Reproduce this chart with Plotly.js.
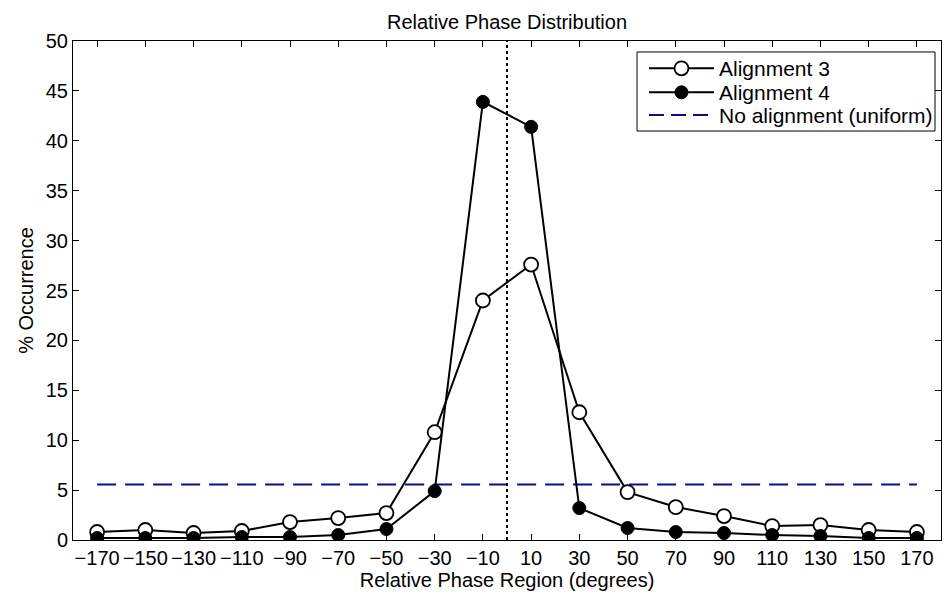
<!DOCTYPE html>
<html>
<head>
<meta charset="utf-8">
<script src="https://cdn.plot.ly/plotly-3.0.1.min.js"></script>
<style>
  html, body { margin: 0; padding: 0; background: #fff; }
  #chart { width: 947px; height: 594px; }
</style>
</head>
<body>
<div id="chart"></div>
<script>
// Relative phase region centres (degrees)
const phaseRegions = [-170, -150, -130, -110, -90, -70, -50, -30, -10, 10, 30, 50, 70, 90, 110, 130, 150, 170];
// % occurrence, Alignment 3 (open circles)
const alignment3 = [0.8, 1.0, 0.7, 0.9, 1.8, 2.2, 2.7, 10.8, 24.0, 27.6, 12.8, 4.8, 3.3, 2.4, 1.4, 1.5, 1.0, 0.8];
// % occurrence, Alignment 4 (filled circles)
const alignment4 = [0.2, 0.2, 0.2, 0.3, 0.3, 0.5, 1.1, 4.9, 43.9, 41.4, 3.2, 1.2, 0.8, 0.7, 0.5, 0.4, 0.2, 0.2];
// No alignment (uniform) = 100 / 18 regions
const uniformX = [-170, 170];
const uniformY = [5.556, 5.556];
// Reference line at zero phase
const refLineX = [0, 0];
const refLineY = [0, 50];
// Tick values
const xTicks = [-170, -150, -130, -110, -90, -70, -50, -30, -10, 10, 30, 50, 70, 90, 110, 130, 150, 170];
const yTicks = [0, 5, 10, 15, 20, 25, 30, 35, 40, 45, 50];
// Series names (legend labels)
const seriesNames = ['Alignment 3', 'Alignment 4', 'No alignment (uniform)'];

const FONT = 'Liberation Sans, Arial, Helvetica, sans-serif';
const NAVY = '#0c0c8a';

const traces = [
  {
    x: uniformX, y: uniformY, type: 'scatter', mode: 'lines',
    name: seriesNames[2], showlegend: false,
    line: { color: NAVY, width: 2, dash: '19px,9px' }
  },
  {
    x: refLineX, y: refLineY, type: 'scatter', mode: 'lines',
    showlegend: false, hoverinfo: 'skip',
    line: { color: '#000', width: 2, dash: 'dot' }
  },
  {
    x: phaseRegions, y: alignment3, type: 'scatter', mode: 'lines+markers',
    name: seriesNames[0], showlegend: false,
    line: { color: '#000', width: 2 },
    marker: { symbol: 'circle', size: 14, color: '#fff', line: { color: '#000', width: 1.8 } }
  },
  {
    x: phaseRegions, y: alignment4, type: 'scatter', mode: 'lines+markers',
    name: seriesNames[1], showlegend: false,
    line: { color: '#000', width: 2 },
    marker: { symbol: 'circle', size: 13, color: '#000', line: { color: '#000', width: 1 } }
  }
];

const axisCommon = {
  showgrid: false, zeroline: false,
  showline: true, linecolor: '#000', linewidth: 1,
  mirror: 'ticks', ticks: 'inside', ticklen: 6, tickwidth: 1, tickcolor: '#000',
  tickfont: { family: FONT, size: 20, color: '#000' }
};

// ---- MATLAB-style legend box (layout decoration, paper coordinates) ----
const LEG = { x0: 0.6498, x1: 0.9931, y0: 0.8196, y1: 0.9780,
              lineX0: 0.6636, lineX1: 0.7385, markX: 0.7010, textX: 0.7419,
              rows: [0.9453, 0.8972, 0.8517] };
const legendShapes = [
  { type: 'rect', xref: 'paper', yref: 'paper', x0: LEG.x0, x1: LEG.x1, y0: LEG.y0, y1: LEG.y1,
    line: { color: '#000', width: 1 }, fillcolor: '#fff', layer: 'above' },
  // Alignment 3 sample
  { type: 'line', xref: 'paper', yref: 'paper', x0: LEG.lineX0, x1: LEG.lineX1, y0: LEG.rows[0], y1: LEG.rows[0],
    line: { color: '#000', width: 2 }, layer: 'above' },
  { type: 'circle', xref: 'paper', yref: 'paper', xsizemode: 'pixel', ysizemode: 'pixel',
    xanchor: LEG.markX, yanchor: LEG.rows[0], x0: -7, x1: 7, y0: -7, y1: 7,
    line: { color: '#000', width: 1.8 }, fillcolor: '#fff', layer: 'above' },
  // Alignment 4 sample
  { type: 'line', xref: 'paper', yref: 'paper', x0: LEG.lineX0, x1: LEG.lineX1, y0: LEG.rows[1], y1: LEG.rows[1],
    line: { color: '#000', width: 2 }, layer: 'above' },
  { type: 'circle', xref: 'paper', yref: 'paper', xsizemode: 'pixel', ysizemode: 'pixel',
    xanchor: LEG.markX, yanchor: LEG.rows[1], x0: -6.5, x1: 6.5, y0: -6.5, y1: 6.5,
    line: { color: '#000', width: 1 }, fillcolor: '#000', layer: 'above' },
  // Uniform sample
  { type: 'line', xref: 'paper', yref: 'paper', x0: LEG.lineX0, x1: LEG.lineX1, y0: LEG.rows[2], y1: LEG.rows[2],
    line: { color: NAVY, width: 2, dash: '15px,7px' }, layer: 'above' }
];
const legendAnnotations = seriesNames.map((name, i) => ({
  text: name, xref: 'paper', yref: 'paper', x: LEG.textX, y: LEG.rows[i],
  xanchor: 'left', yanchor: 'middle', showarrow: false,
  font: { family: FONT, size: 21, color: '#000' }
}));

const layout = {
  width: 947, height: 594,
  margin: { l: 73, r: 6, t: 41, b: 54 },
  paper_bgcolor: '#fff', plot_bgcolor: '#fff',
  font: { family: FONT, color: '#000' },
  title: {
    text: 'Relative Phase Distribution',
    font: { family: FONT, size: 20, color: '#000' },
    x: 0.5, xanchor: 'center', xref: 'paper',
    y: 1, yref: 'paper', yanchor: 'bottom', pad: { b: 12 }
  },
  xaxis: Object.assign({}, axisCommon, {
    range: [-180, 180],
    tickmode: 'array', tickvals: xTicks,
    title: { text: 'Relative Phase Region (degrees)', font: { family: FONT, size: 20, color: '#000' }, standoff: 0 }
  }),
  yaxis: Object.assign({}, axisCommon, {
    range: [0, 50],
    tickmode: 'array', tickvals: yTicks,
    title: { text: '% Occurrence', font: { family: FONT, size: 20, color: '#000' }, standoff: 6 }
  }),
  shapes: legendShapes,
  annotations: legendAnnotations,
  showlegend: false
};

Plotly.newPlot('chart', traces, layout, { displayModeBar: false, staticPlot: true });
</script>
</body>
</html>
